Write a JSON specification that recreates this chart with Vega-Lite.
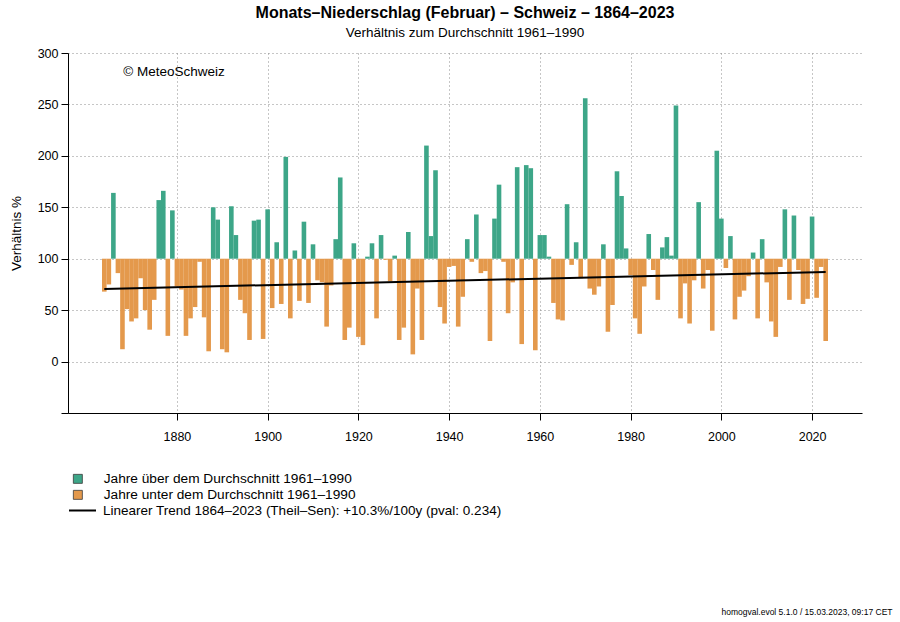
{
  "$schema": "https://vega.github.io/schema/vega-lite/v6.json",
  "width": 794,
  "height": 360,
  "autosize": {"type": "none"},
  "padding": {"left": 68, "top": 53, "right": 38, "bottom": 209},
  "background": "white",
  "config": {
    "font": "Liberation Sans",
    "view": {"stroke": null},
    "legend": {"padding": 0}
  },
  "title": {
    "text": "Monats–Niederschlag (Februar) – Schweiz – 1864–2023",
    "subtitle": "Verhältnis zum Durchschnitt 1961–1990",
    "fontSize": 16,
    "fontWeight": "bold",
    "subtitleFontSize": 13.5,
    "anchor": "middle",
    "frame": "group",
    "offset": 8,
    "subtitlePadding": 5,
    "color": "black",
    "subtitleColor": "black"
  },
  "datasets": {
    "bars": [
      {"jahr": 1864, "wert": 68, "typ": "unter"},
      {"jahr": 1865, "wert": 75, "typ": "unter"},
      {"jahr": 1866, "wert": 164, "typ": "über"},
      {"jahr": 1867, "wert": 86, "typ": "unter"},
      {"jahr": 1868, "wert": 12, "typ": "unter"},
      {"jahr": 1869, "wert": 51, "typ": "unter"},
      {"jahr": 1870, "wert": 39, "typ": "unter"},
      {"jahr": 1871, "wert": 42, "typ": "unter"},
      {"jahr": 1872, "wert": 81, "typ": "unter"},
      {"jahr": 1873, "wert": 50, "typ": "unter"},
      {"jahr": 1874, "wert": 31, "typ": "unter"},
      {"jahr": 1875, "wert": 60, "typ": "unter"},
      {"jahr": 1876, "wert": 157, "typ": "über"},
      {"jahr": 1877, "wert": 166, "typ": "über"},
      {"jahr": 1878, "wert": 25, "typ": "unter"},
      {"jahr": 1879, "wert": 147, "typ": "über"},
      {"jahr": 1880, "wert": 73, "typ": "unter"},
      {"jahr": 1881, "wert": 70, "typ": "unter"},
      {"jahr": 1882, "wert": 25, "typ": "unter"},
      {"jahr": 1883, "wert": 42, "typ": "unter"},
      {"jahr": 1884, "wert": 53, "typ": "unter"},
      {"jahr": 1885, "wert": 97, "typ": "unter"},
      {"jahr": 1886, "wert": 43, "typ": "unter"},
      {"jahr": 1887, "wert": 10, "typ": "unter"},
      {"jahr": 1888, "wert": 150, "typ": "über"},
      {"jahr": 1889, "wert": 138, "typ": "über"},
      {"jahr": 1890, "wert": 12, "typ": "unter"},
      {"jahr": 1891, "wert": 9, "typ": "unter"},
      {"jahr": 1892, "wert": 151, "typ": "über"},
      {"jahr": 1893, "wert": 123, "typ": "über"},
      {"jahr": 1894, "wert": 60, "typ": "unter"},
      {"jahr": 1895, "wert": 47, "typ": "unter"},
      {"jahr": 1896, "wert": 21, "typ": "unter"},
      {"jahr": 1897, "wert": 137, "typ": "über"},
      {"jahr": 1898, "wert": 138, "typ": "über"},
      {"jahr": 1899, "wert": 22, "typ": "unter"},
      {"jahr": 1900, "wert": 148, "typ": "über"},
      {"jahr": 1901, "wert": 52, "typ": "unter"},
      {"jahr": 1902, "wert": 116, "typ": "über"},
      {"jahr": 1903, "wert": 56, "typ": "unter"},
      {"jahr": 1904, "wert": 199, "typ": "über"},
      {"jahr": 1905, "wert": 42, "typ": "unter"},
      {"jahr": 1906, "wert": 108, "typ": "über"},
      {"jahr": 1907, "wert": 59, "typ": "unter"},
      {"jahr": 1908, "wert": 136, "typ": "über"},
      {"jahr": 1909, "wert": 57, "typ": "unter"},
      {"jahr": 1910, "wert": 114, "typ": "über"},
      {"jahr": 1911, "wert": 79, "typ": "unter"},
      {"jahr": 1912, "wert": 77, "typ": "unter"},
      {"jahr": 1913, "wert": 34, "typ": "unter"},
      {"jahr": 1914, "wert": 74, "typ": "unter"},
      {"jahr": 1915, "wert": 119, "typ": "über"},
      {"jahr": 1916, "wert": 179, "typ": "über"},
      {"jahr": 1917, "wert": 21, "typ": "unter"},
      {"jahr": 1918, "wert": 33, "typ": "unter"},
      {"jahr": 1919, "wert": 115, "typ": "über"},
      {"jahr": 1920, "wert": 24, "typ": "unter"},
      {"jahr": 1921, "wert": 16, "typ": "unter"},
      {"jahr": 1922, "wert": 102, "typ": "über"},
      {"jahr": 1923, "wert": 115, "typ": "über"},
      {"jahr": 1924, "wert": 42, "typ": "unter"},
      {"jahr": 1925, "wert": 123, "typ": "über"},
      {"jahr": 1926, "wert": 99, "typ": "unter"},
      {"jahr": 1927, "wert": 78, "typ": "unter"},
      {"jahr": 1928, "wert": 103, "typ": "über"},
      {"jahr": 1929, "wert": 21, "typ": "unter"},
      {"jahr": 1930, "wert": 33, "typ": "unter"},
      {"jahr": 1931, "wert": 126, "typ": "über"},
      {"jahr": 1932, "wert": 7, "typ": "unter"},
      {"jahr": 1933, "wert": 71, "typ": "unter"},
      {"jahr": 1934, "wert": 21, "typ": "unter"},
      {"jahr": 1935, "wert": 210, "typ": "über"},
      {"jahr": 1936, "wert": 122, "typ": "über"},
      {"jahr": 1937, "wert": 186, "typ": "über"},
      {"jahr": 1938, "wert": 53, "typ": "unter"},
      {"jahr": 1939, "wert": 37, "typ": "unter"},
      {"jahr": 1940, "wert": 92, "typ": "unter"},
      {"jahr": 1941, "wert": 93, "typ": "unter"},
      {"jahr": 1942, "wert": 34, "typ": "unter"},
      {"jahr": 1943, "wert": 63, "typ": "unter"},
      {"jahr": 1944, "wert": 119, "typ": "über"},
      {"jahr": 1945, "wert": 97, "typ": "unter"},
      {"jahr": 1946, "wert": 143, "typ": "über"},
      {"jahr": 1947, "wert": 86, "typ": "unter"},
      {"jahr": 1948, "wert": 88, "typ": "unter"},
      {"jahr": 1949, "wert": 20, "typ": "unter"},
      {"jahr": 1950, "wert": 139, "typ": "über"},
      {"jahr": 1951, "wert": 172, "typ": "über"},
      {"jahr": 1952, "wert": 97, "typ": "unter"},
      {"jahr": 1953, "wert": 47, "typ": "unter"},
      {"jahr": 1954, "wert": 77, "typ": "unter"},
      {"jahr": 1955, "wert": 189, "typ": "über"},
      {"jahr": 1956, "wert": 17, "typ": "unter"},
      {"jahr": 1957, "wert": 191, "typ": "über"},
      {"jahr": 1958, "wert": 188, "typ": "über"},
      {"jahr": 1959, "wert": 11, "typ": "unter"},
      {"jahr": 1960, "wert": 123, "typ": "über"},
      {"jahr": 1961, "wert": 123, "typ": "über"},
      {"jahr": 1962, "wert": 102, "typ": "über"},
      {"jahr": 1963, "wert": 57, "typ": "unter"},
      {"jahr": 1964, "wert": 41, "typ": "unter"},
      {"jahr": 1965, "wert": 40, "typ": "unter"},
      {"jahr": 1966, "wert": 153, "typ": "über"},
      {"jahr": 1967, "wert": 94, "typ": "unter"},
      {"jahr": 1968, "wert": 116, "typ": "über"},
      {"jahr": 1969, "wert": 81, "typ": "unter"},
      {"jahr": 1970, "wert": 256, "typ": "über"},
      {"jahr": 1971, "wert": 71, "typ": "unter"},
      {"jahr": 1972, "wert": 65, "typ": "unter"},
      {"jahr": 1973, "wert": 73, "typ": "unter"},
      {"jahr": 1974, "wert": 114, "typ": "über"},
      {"jahr": 1975, "wert": 29, "typ": "unter"},
      {"jahr": 1976, "wert": 55, "typ": "unter"},
      {"jahr": 1977, "wert": 185, "typ": "über"},
      {"jahr": 1978, "wert": 161, "typ": "über"},
      {"jahr": 1979, "wert": 110, "typ": "über"},
      {"jahr": 1980, "wert": 84, "typ": "unter"},
      {"jahr": 1981, "wert": 42, "typ": "unter"},
      {"jahr": 1982, "wert": 27, "typ": "unter"},
      {"jahr": 1983, "wert": 73, "typ": "unter"},
      {"jahr": 1984, "wert": 124, "typ": "über"},
      {"jahr": 1985, "wert": 89, "typ": "unter"},
      {"jahr": 1986, "wert": 60, "typ": "unter"},
      {"jahr": 1987, "wert": 111, "typ": "über"},
      {"jahr": 1988, "wert": 121, "typ": "über"},
      {"jahr": 1989, "wert": 103, "typ": "über"},
      {"jahr": 1990, "wert": 249, "typ": "über"},
      {"jahr": 1991, "wert": 42, "typ": "unter"},
      {"jahr": 1992, "wert": 76, "typ": "unter"},
      {"jahr": 1993, "wert": 37, "typ": "unter"},
      {"jahr": 1994, "wert": 79, "typ": "unter"},
      {"jahr": 1995, "wert": 155, "typ": "über"},
      {"jahr": 1996, "wert": 71, "typ": "unter"},
      {"jahr": 1997, "wert": 89, "typ": "unter"},
      {"jahr": 1998, "wert": 30, "typ": "unter"},
      {"jahr": 1999, "wert": 205, "typ": "über"},
      {"jahr": 2000, "wert": 139, "typ": "über"},
      {"jahr": 2001, "wert": 91, "typ": "unter"},
      {"jahr": 2002, "wert": 122, "typ": "über"},
      {"jahr": 2003, "wert": 41, "typ": "unter"},
      {"jahr": 2004, "wert": 63, "typ": "unter"},
      {"jahr": 2005, "wert": 69, "typ": "unter"},
      {"jahr": 2006, "wert": 83, "typ": "unter"},
      {"jahr": 2007, "wert": 106, "typ": "über"},
      {"jahr": 2008, "wert": 42, "typ": "unter"},
      {"jahr": 2009, "wert": 119, "typ": "über"},
      {"jahr": 2010, "wert": 77, "typ": "unter"},
      {"jahr": 2011, "wert": 39, "typ": "unter"},
      {"jahr": 2012, "wert": 24, "typ": "unter"},
      {"jahr": 2013, "wert": 92, "typ": "unter"},
      {"jahr": 2014, "wert": 148, "typ": "über"},
      {"jahr": 2015, "wert": 60, "typ": "unter"},
      {"jahr": 2016, "wert": 142, "typ": "über"},
      {"jahr": 2017, "wert": 89, "typ": "unter"},
      {"jahr": 2018, "wert": 56, "typ": "unter"},
      {"jahr": 2019, "wert": 61, "typ": "unter"},
      {"jahr": 2020, "wert": 141, "typ": "über"},
      {"jahr": 2021, "wert": 62, "typ": "unter"},
      {"jahr": 2022, "wert": 92, "typ": "unter"},
      {"jahr": 2023, "wert": 20, "typ": "unter"}
    ],
    "trend": [
      {"jahr": 1864, "wert": 70.6, "name": "Linearer Trend 1864–2023 (Theil–Sen): +10.3%/100y (pval: 0.234)"},
      {"jahr": 2023, "wert": 87.2, "name": "Linearer Trend 1864–2023 (Theil–Sen): +10.3%/100y (pval: 0.234)"}
    ],
    "note": [
      {"label": "© MeteoSchweiz"}
    ]
  },
  "layer": [
    {
      "data": {"name": "bars"},
      "mark": {"type": "bar", "width": 4.6},
      "encoding": {
        "x": {
          "field": "jahr",
          "type": "quantitative",
          "scale": {"domain": [1857.1, 2029.9], "nice": false, "zero": false},
          "axis": {
            "values": [1880, 1900, 1920, 1940, 1960, 1980, 2000, 2020],
            "format": "d",
            "grid": true,
            "gridDash": [1, 3],
            "gridColor": "#8c8c8c",
            "gridWidth": 1,
            "domain": true,
            "domainColor": "black",
            "ticks": true,
            "tickSize": 7,
            "tickColor": "black",
            "labelFontSize": 12.5,
            "labelPadding": 10,
            "labelColor": "black",
            "title": "homogval.evol 5.1.0 / 15.03.2023, 09:17 CET",
            "titleFontSize": 8.5,
            "titleFontWeight": "normal",
            "titleColor": "black",
            "titleX": 824,
            "titleY": 198,
            "titleAlign": "right",
            "titleAnchor": "end",
            "titleBaseline": "middle"
          }
        },
        "y": {
          "field": "wert",
          "type": "quantitative",
          "scale": {"domain": [-50, 300], "nice": false, "zero": false},
          "axis": {
            "values": [-50, 0, 50, 100, 150, 200, 250, 300],
            "labelExpr": "datum.value < 0 ? '' : datum.label",
            "grid": true,
            "gridDash": [1, 3],
            "gridColor": "#8c8c8c",
            "gridWidth": 1,
            "domain": true,
            "domainColor": "black",
            "ticks": true,
            "tickSize": 7,
            "tickColor": "black",
            "labelFontSize": 12.5,
            "labelPadding": 3,
            "labelColor": "black",
            "title": "Verhältnis %",
            "titleFontSize": 13.5,
            "titleFontWeight": "normal",
            "titleColor": "black",
            "titleX": -52,
            "titleY": 180,
            "titleAngle": -90,
            "titleAlign": "center",
            "titleBaseline": "middle"
          }
        },
        "y2": {"datum": 100},
        "fill": {
          "field": "typ",
          "type": "nominal",
          "scale": {"domain": ["über", "unter"], "range": ["#3DA688", "#E4994C"]},
          "legend": {
            "title": null,
            "orient": "none",
            "legendX": 3,
            "legendY": 419,
            "symbolType": "square",
            "symbolSize": 81,
            "symbolStrokeColor": "#3a3a3a",
            "symbolStrokeWidth": 0.8,
            "labelFontSize": 13.7,
            "labelColor": "black",
            "labelOffset": 19,
            "labelLimit": 600,
            "rowPadding": 1,
            "labelExpr": "datum.label == 'über' ? 'Jahre über dem Durchschnitt 1961–1990' : 'Jahre unter dem Durchschnitt 1961–1990'"
          }
        }
      }
    },
    {
      "mark": {"type": "rule", "color": "#4d4d4d", "strokeWidth": 1.3},
      "encoding": {"y": {"datum": 100}}
    },
    {
      "mark": {"type": "rule", "color": "black", "strokeWidth": 1},
      "encoding": {"y": {"datum": 300}}
    },
    {
      "data": {"name": "trend"},
      "mark": {"type": "line", "strokeWidth": 2},
      "encoding": {
        "x": {"field": "jahr", "type": "quantitative"},
        "y": {"field": "wert", "type": "quantitative"},
        "stroke": {
          "field": "name",
          "type": "nominal",
          "scale": {"range": ["black"]},
          "legend": {
            "title": null,
            "orient": "none",
            "legendX": 0,
            "legendY": 443,
            "symbolType": "stroke",
            "symbolSize": 729,
            "symbolStrokeWidth": 2,
            "symbolStrokeColor": "black",
            "labelFontSize": 13.5,
            "labelColor": "black",
            "labelOffset": 6,
            "labelLimit": 600
          }
        }
      }
    },
    {
      "data": {"name": "note"},
      "mark": {"type": "text", "align": "left", "baseline": "middle", "fontSize": 13.5, "color": "black"},
      "encoding": {
        "x": {"datum": 1868.2},
        "y": {"datum": 282},
        "text": {"field": "label", "type": "nominal"}
      }
    }
  ],
  "resolve": {"legend": {"fill": "independent", "stroke": "independent"}}
}
